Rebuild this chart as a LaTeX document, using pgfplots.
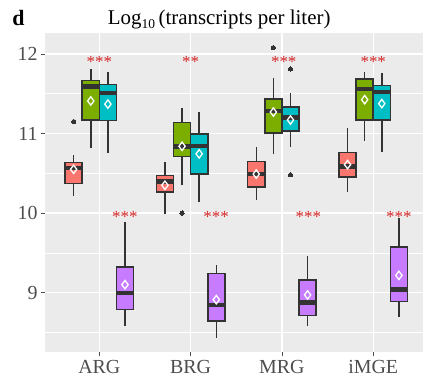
\documentclass[border=0pt]{standalone}
\usepackage{fontspec}
\setmainfont{Liberation Serif}
\usepackage{pgfplots}
\pgfplotsset{compat=1.18}
\definecolor{panel}{HTML}{EBEBEB}
\definecolor{tickgray}{HTML}{4D4D4D}
\definecolor{boxgray}{HTML}{333333}
\definecolor{cRed}{HTML}{F8766D}
\definecolor{cGreen}{HTML}{7CAE00}
\definecolor{cCyan}{HTML}{00BFC4}
\definecolor{cPurple}{HTML}{C77CFF}
\definecolor{starred}{RGB}{214,39,40}
% #1 centre, #2 left edge, #3 right edge, #4 colour, #5 lower whisker, #6 Q1, #7 median, #8 Q3, #9 upper whisker
\newcommand{\bx}[9]{%
 \addplot[boxgray, line width=1.5bp] coordinates {(#1,#5) (#1,#6)};
 \addplot[boxgray, line width=1.5bp] coordinates {(#1,#8) (#1,#9)};
 \addplot[fill=#4, draw=boxgray, line width=1.5bp] coordinates {(#2,#6) (#3,#6) (#3,#8) (#2,#8)} --cycle;
 \addplot[boxgray, line width=4.5bp] coordinates {(#2,#7) (#3,#7)};
}
\newcommand{\stars}[3]{\node[text=starred, font=\fontsize{17}{17}\selectfont, anchor=base, yshift=-8.2bp, inner sep=0pt] at (axis cs:#1,#2) {#3};}
\begin{document}
\begin{tikzpicture}
\begin{axis}[
  at={(0,0)}, anchor=south west, scale only axis,
  width=378bp, height=319bp,
  xmin=0.405, xmax=4.545, ymin=8.25, ymax=12.26,
  axis background/.style={fill=panel},
  axis line style={draw=none},
  xtick={1,2,3,4}, xticklabels={ARG,BRG,MRG,iMGE},
  ytick={9,10,11,12},
  minor ytick={8.5,9.5,10.5,11.5},
  minor tick length=0pt,
  major tick length=4bp,
  tick align=outside,
  xtick pos=bottom, ytick pos=left,
  tick style={draw=tickgray, line width=0.6bp},
  grid=both,
  major grid style={draw=white, line width=1.2bp},
  minor grid style={draw=white, line width=0.6bp},
  ticklabel style={font=\fontsize{20}{20}\selectfont, text=tickgray},
  /pgf/number format/assume math mode=true,
  clip=false,
]
% ARG
\bx{0.71875}{0.625}{0.8125}{cRed}{10.22}{10.375}{10.565}{10.636}{10.73}
\bx{0.90625}{0.8125}{1.0}{cGreen}{10.82}{11.17}{11.59}{11.665}{11.81}
\bx{1.09375}{1.0}{1.1875}{cCyan}{10.754}{11.163}{11.507}{11.615}{11.77}
\bx{1.28125}{1.1875}{1.375}{cPurple}{8.586}{8.787}{8.996}{9.322}{9.882}
% BRG
\bx{1.71875}{1.625}{1.8125}{cRed}{9.99}{10.268}{10.40}{10.473}{10.64}
\bx{1.90625}{1.8125}{2.0}{cGreen}{10.347}{10.711}{10.836}{11.138}{11.326}
\bx{2.09375}{2.0}{2.1875}{cCyan}{10.139}{10.494}{10.845}{10.996}{11.268}
\bx{2.28125}{2.1875}{2.375}{cPurple}{8.432}{8.645}{8.846}{9.239}{9.352}
% MRG
\bx{2.71875}{2.625}{2.8125}{cRed}{10.164}{10.331}{10.494}{10.648}{10.829}
\bx{2.90625}{2.8125}{3.0}{cGreen}{10.741}{11.008}{11.285}{11.431}{11.695}
\bx{3.09375}{3.0}{3.1875}{cCyan}{10.836}{11.03}{11.2}{11.331}{11.507}
\bx{3.28125}{3.1875}{3.375}{cPurple}{8.577}{8.711}{8.878}{9.159}{9.456}
% iMGE
\bx{3.71875}{3.625}{3.8125}{cRed}{10.259}{10.452}{10.585}{10.761}{11.071}
\bx{3.90625}{3.8125}{4.0}{cGreen}{10.908}{11.172}{11.561}{11.686}{11.77}
\bx{4.09375}{4.0}{4.1875}{cCyan}{10.766}{11.172}{11.52}{11.602}{11.758}
\bx{4.28125}{4.1875}{4.375}{cPurple}{8.695}{8.887}{9.038}{9.574}{9.938}
% outliers
\addplot[only marks, mark=*, mark size=2.1bp, mark options={fill=boxgray, draw=boxgray, line width=0pt}] coordinates {
(0.71875,11.15) (1.90625,10.0) (2.90625,12.08) (3.09375,11.81) (3.09375,10.48)};
% means
\addplot[only marks, mark=diamond, mark size=4.2bp, mark options={draw=white, fill=none, line width=1.3bp}] coordinates {
(0.71875,10.55) (0.90625,11.41) (1.09375,11.37) (1.28125,9.10)
(1.71875,10.35) (1.90625,10.84) (2.09375,10.745) (2.28125,8.912)
(2.71875,10.49) (2.90625,11.27) (3.09375,11.17) (3.28125,8.971)
(3.71875,10.61) (3.90625,11.426) (4.09375,11.376) (4.28125,9.217)};
% significance
\stars{1}{11.933}{***}
\stars{1.28}{9.99}{***}
\stars{2}{11.933}{**}
\stars{2.28}{9.99}{***}
\stars{3.02}{11.933}{***}
\stars{3.29}{9.99}{***}
\stars{4}{11.933}{***}
\stars{4.28}{9.99}{***}
\end{axis}
\node[anchor=base west, inner sep=0pt, font=\fontsize{21}{21}\selectfont] at (62.7bp,327.3bp) {Log\raisebox{-3.8bp}{\fontsize{13.5}{13.5}\selectfont 10}\,(transcripts per liter)};
\node[anchor=base west, inner sep=0pt, font=\fontsize{22}{22}\selectfont\bfseries] at (-32.7bp,327bp) {d};
\pgfresetboundingbox
\path[use as bounding box] (-45bp,-29.7bp) rectangle (378bp,352.3bp);
\end{tikzpicture}
\end{document}
